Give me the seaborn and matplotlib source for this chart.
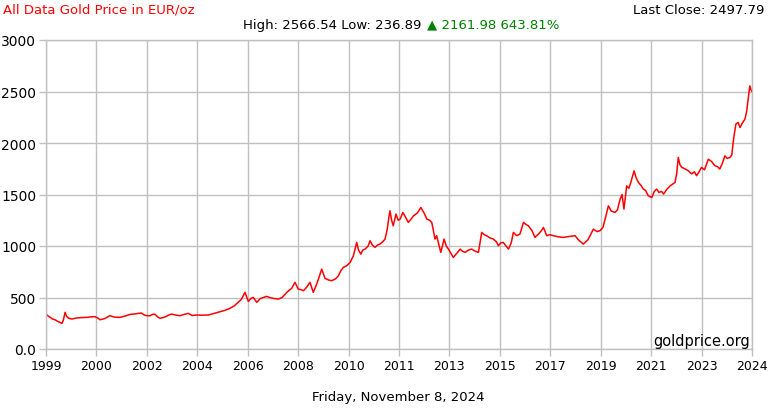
import matplotlib
matplotlib.use("Agg")
import matplotlib.pyplot as plt
import numpy as np
import pandas as pd
import seaborn as sns

# gold price in EUR/oz
years = [
    1999.00, 1999.08, 1999.15, 1999.25, 1999.33, 1999.42, 1999.51, 1999.58, 1999.63, 1999.70,
    1999.75, 1999.82, 1999.95, 2000.12, 2000.30, 2000.49, 2000.65, 2000.79, 2000.90, 2000.98,
    2001.15, 2001.34, 2001.50, 2001.71, 2001.90, 2002.08, 2002.25, 2002.38, 2002.50, 2002.60,
    2002.70, 2002.81, 2002.93, 2003.00, 2003.11, 2003.18, 2003.35, 2003.50, 2003.60, 2003.75,
    2003.91, 2004.05, 2004.21, 2004.35, 2004.52, 2004.70, 2004.95, 2005.15, 2005.37, 2005.55,
    2005.74, 2005.90, 2006.04, 2006.15, 2006.29, 2006.41, 2006.50, 2006.59, 2006.72, 2006.85,
    2007.08, 2007.20, 2007.35, 2007.51, 2007.65, 2007.82, 2008.00, 2008.12, 2008.24, 2008.35,
    2008.43, 2008.55, 2008.67, 2008.79, 2008.90, 2008.98, 2009.10, 2009.22, 2009.35, 2009.46,
    2009.60, 2009.71, 2009.80, 2009.89, 2010.02, 2010.14, 2010.26, 2010.38, 2010.45, 2010.53,
    2010.60, 2010.69, 2010.80, 2010.87, 2010.95, 2011.05, 2011.15, 2011.23, 2011.33, 2011.42,
    2011.50, 2011.56, 2011.60, 2011.66, 2011.72, 2011.82, 2011.90, 2011.97, 2012.07, 2012.17,
    2012.27, 2012.37, 2012.46, 2012.60, 2012.73, 2012.85, 2012.95, 2013.05, 2013.13, 2013.25,
    2013.31, 2013.37, 2013.46, 2013.52, 2013.58, 2013.66, 2013.74, 2013.83, 2013.92, 2014.05,
    2014.17, 2014.25, 2014.35, 2014.47, 2014.59, 2014.72, 2014.84, 2014.96, 2015.05, 2015.14,
    2015.25, 2015.39, 2015.50, 2015.57, 2015.66, 2015.75, 2015.85, 2015.94, 2016.04, 2016.12,
    2016.24, 2016.36, 2016.49, 2016.58, 2016.67, 2016.80, 2016.91, 2017.05, 2017.15, 2017.22,
    2017.34, 2017.45, 2017.58, 2017.75, 2017.95, 2018.10, 2018.25, 2018.38, 2018.50, 2018.68,
    2018.85, 2019.05, 2019.18, 2019.29, 2019.40, 2019.48, 2019.60, 2019.70, 2019.84, 2019.93,
    2020.03, 2020.10, 2020.17, 2020.27, 2020.35, 2020.42, 2020.54, 2020.62, 2020.70, 2020.79,
    2020.88, 2020.96, 2021.06, 2021.19, 2021.28, 2021.37, 2021.45, 2021.55, 2021.62, 2021.74,
    2021.86, 2021.95, 2022.04, 2022.10, 2022.16, 2022.22, 2022.29, 2022.40, 2022.53, 2022.65,
    2022.75, 2022.83, 2022.92, 2023.01, 2023.12, 2023.26, 2023.38, 2023.50, 2023.60, 2023.68,
    2023.77, 2023.87, 2023.95, 2024.05, 2024.12, 2024.17, 2024.22, 2024.27, 2024.35, 2024.42,
    2024.52, 2024.60, 2024.66, 2024.72, 2024.78, 2024.82, 2024.86,
]
prices = [
    339, 320, 307, 290, 284, 270, 259, 248, 275, 356,
    320, 300, 291, 301, 305, 307, 312, 314, 300, 284,
    295, 323, 310, 307, 320, 336, 340, 346, 349, 330,
    323, 323, 339, 335, 307, 298, 310, 330, 339, 330,
    323, 335, 346, 325, 330, 328, 330, 345, 362, 375,
    395, 420, 453, 480, 550, 462, 490, 501, 453, 490,
    511, 500, 490, 485, 500, 550, 590, 647, 582, 575,
    566, 600, 647, 550, 620, 679, 776, 686, 670, 663,
    680, 711, 760, 792, 810, 841, 905, 1035, 960, 921,
    960, 970, 1000, 1051, 1010, 987, 1010, 1019, 1040, 1067,
    1164, 1280, 1342, 1250, 1196, 1310, 1250, 1260, 1326, 1280,
    1229, 1260, 1293, 1320, 1374, 1320, 1261, 1250, 1229, 1067,
    1100, 1035, 938, 1000, 1067, 1000, 970, 930, 889, 930,
    970, 950, 938, 960, 970, 950, 938, 1132, 1110, 1100,
    1080, 1067, 1040, 1002, 1030, 1035, 1000, 970, 1030, 1132,
    1100, 1116, 1229, 1210, 1196, 1150, 1083, 1120, 1150, 1180,
    1100, 1110, 1100, 1090, 1083, 1090, 1095, 1100, 1060, 1019,
    1060, 1164, 1140, 1148, 1180, 1261, 1390, 1340, 1326, 1350,
    1455, 1500, 1358, 1584, 1560, 1617, 1730, 1660, 1617, 1590,
    1553, 1540, 1488, 1471, 1530, 1553, 1520, 1530, 1504, 1550,
    1584, 1600, 1617, 1700, 1860, 1790, 1763, 1750, 1730, 1700,
    1720, 1682, 1720, 1763, 1740, 1843, 1820, 1779, 1770, 1747,
    1800, 1876, 1850, 1860, 1883, 2005, 2100, 2183, 2200, 2150,
    2200, 2231, 2300, 2426, 2554, 2520, 2498,
]

x_tick_labels = ["1999", "2000", "2002", "2004", "2006", "2008", "2010", "2011",
                 "2013", "2015", "2017", "2019", "2021", "2023", "2024"]
y_ticks = [0, 500, 1000, 1500, 2000, 2500, 3000]
y_tick_labels = ["0.0", "500", "1000", "1500", "2000", "2500", "3000"]

title = "All Data Gold Price in EUR/oz"
stats_text = "High: 2566.54 Low: 236.89"
change_text = "\u25b2 2161.98 643.81%"
last_close = "Last Close: 2497.79"
date_text = "Friday, November 8, 2024"

df = pd.DataFrame({"year": years, "price": prices})

sns.set_style("whitegrid")
plt.rcParams["font.family"] = ["DejaVu Sans"]

fig = plt.figure(figsize=(7.7, 4.1), dpi=100)
ax = fig.add_axes([46 / 770, 60 / 410, 706 / 770, 309 / 410])

sns.lineplot(data=df, x="year", y="price", color="#ff0000", linewidth=1.1, ax=ax)

start, end = years[0], years[-1]
ax.set_xlim(start, end)
ax.set_ylim(0, 3000)
ax.set_xticks(np.linspace(start, end, len(x_tick_labels)))
ax.set_xticklabels(x_tick_labels, fontsize=9)
ax.set_yticks(y_ticks)
ax.set_yticklabels(y_tick_labels, fontsize=10)
ax.set_xlabel("")
ax.set_ylabel("")

ax.grid(True, color="#c0c0c0", linewidth=1)
for s in ax.spines.values():
    s.set_color("#c0c0c0")
    s.set_linewidth(1)
ax.tick_params(axis="both", which="both", length=5, width=1, color="#c0c0c0",
               labelcolor="#000000", pad=2, left=True, bottom=True)

ax.text(0.997, 0.004, "goldprice.org", transform=ax.transAxes, ha="right", va="bottom",
        fontsize=10.5, color="#000000")

fig.text(3 / 770, 1 - 10 / 410, title, color="#ff0000", fontsize=9.5, va="center", ha="left")
fig.text(764 / 770, 1 - 10 / 410, last_close, color="#000000", fontsize=9.5, va="center", ha="right")
t1 = fig.text(243 / 770, 1 - 25 / 410, stats_text, color="#000000", fontsize=9.5, va="center", ha="left")
fig.canvas.draw()
bb = t1.get_window_extent()
fig.text((bb.x1 + 6) / 770, 1 - 25 / 410, change_text, color="#008000", fontsize=9.5,
         va="center", ha="left")
fig.text(398 / 770, 1 - 398 / 410, date_text, color="#000000", fontsize=9.5, va="center", ha="center")

fig.savefig("out.png", dpi=100, facecolor="white")
